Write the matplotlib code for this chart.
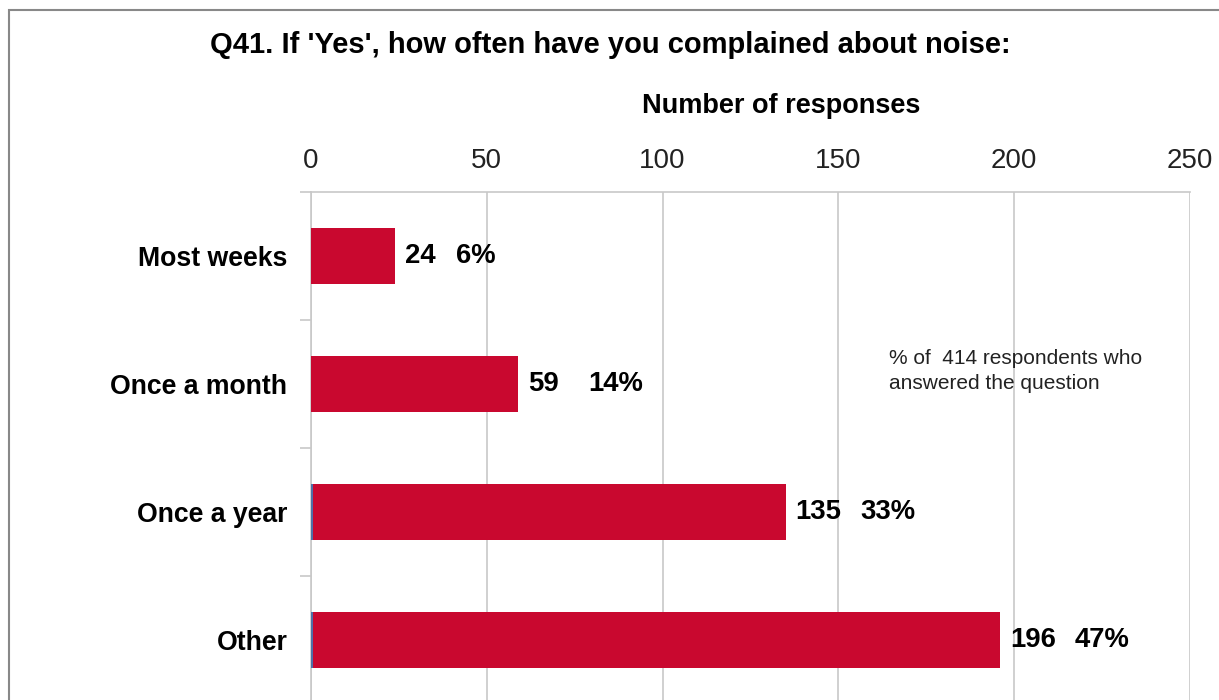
import numpy as np
import matplotlib
matplotlib.use("Agg")
import matplotlib.pyplot as plt
from matplotlib.patches import Rectangle

categories = ["Most weeks", "Once a month", "Once a year", "Other"]
counts = [24, 59, 135, 196]
percents = [6, 14, 33, 47]
# tiny second series that shows as a blue sliver at the bar base
other_series = [0, 0, 0.5, 0.5]
x_ticks = [0, 50, 100, 150, 200, 250]
# gap (px) between count and percentage labels
label_gaps = [20, 29, 19, 19]

plt.rcParams['font.family'] = ['Liberation Sans', 'DejaVu Sans']

W, H = 1219, 700
fig = plt.figure(figsize=(W / 100, H / 100), dpi=100)

# axes placed in pixel coords: x 311..1190, y 192..704 (bottom runs off the image)
left, right, top, bottom = 311, 1190, 192, 704
ax = fig.add_axes([left / W, 1 - bottom / H, (right - left) / W, (bottom - top) / H])

y = np.arange(len(categories))
ax.barh(y, counts, height=0.43, color='#C9082F', zorder=3)
ax.barh(y, other_series, height=0.43, color='#4F6FA8', zorder=4)
ax.set_xlim(0, 250)
ax.set_ylim(len(categories) - 0.5, -0.5)

ax.xaxis.tick_top()
ax.set_xticks(x_ticks)
ax.set_xticklabels([str(t) for t in x_ticks], fontsize=20, color='#222222')
ax.tick_params(axis='x', length=0, pad=13)
ax.grid(axis='x', color='#c8c8c8', linewidth=1.2, zorder=0)

ax.set_yticks(y)
ax.set_yticklabels(categories, fontsize=19.2, fontweight='bold')
ax.tick_params(axis='y', length=0, pad=17)
# small ticks on the left spine between categories
ax.set_yticks(np.arange(-0.5, len(categories) - 0.5, 1.0), minor=True)
ax.tick_params(axis='y', which='minor', length=8, color='#c8c8c8', width=1.2)

for s in ['right', 'bottom']:
    ax.spines[s].set_visible(False)
for s in ['left', 'top']:
    ax.spines[s].set_color('#c8c8c8')
    ax.spines[s].set_linewidth(1.2)
ax.tick_params(axis='x', which='both', length=0)

fig.canvas.draw()
renderer = fig.canvas.get_renderer()
for i, (c, p) in enumerate(zip(counts, percents)):
    t = ax.annotate(f"{c}", xy=(c, i), xytext=(7, 0), textcoords='offset points',
                    fontsize=19.8, fontweight='bold', va='center', ha='left')
    wpx = t.get_window_extent(renderer).width
    ax.annotate(f"{p}%", xy=(c, i), xytext=((10 + wpx + label_gaps[i]) * 0.72, 0),
                textcoords='offset points',
                fontsize=19.8, fontweight='bold', va='center', ha='left')

fig.text(781 / W, 1 - 106 / H, "Number of responses", fontsize=19.5,
         fontweight='bold', ha='center', va='center')

fig.text(889 / W, 1 - 371 / H, "% of  414 respondents who\nanswered the question",
         fontsize=15, va='center', ha='left', color='#222222', linespacing=1.45)

fig.text(610 / W, 1 - 45 / H, "Q41. If 'Yes', how often have you complained about noise:",
         fontsize=21, fontweight='bold', ha='center', va='center')

fig.patches.append(Rectangle((8.5 / W, -0.05), 1.2, 1.05 - 10 / H,
                             transform=fig.transFigure, fill=False,
                             edgecolor='#888888', linewidth=1.5))

fig.savefig("out.png", dpi=100)
